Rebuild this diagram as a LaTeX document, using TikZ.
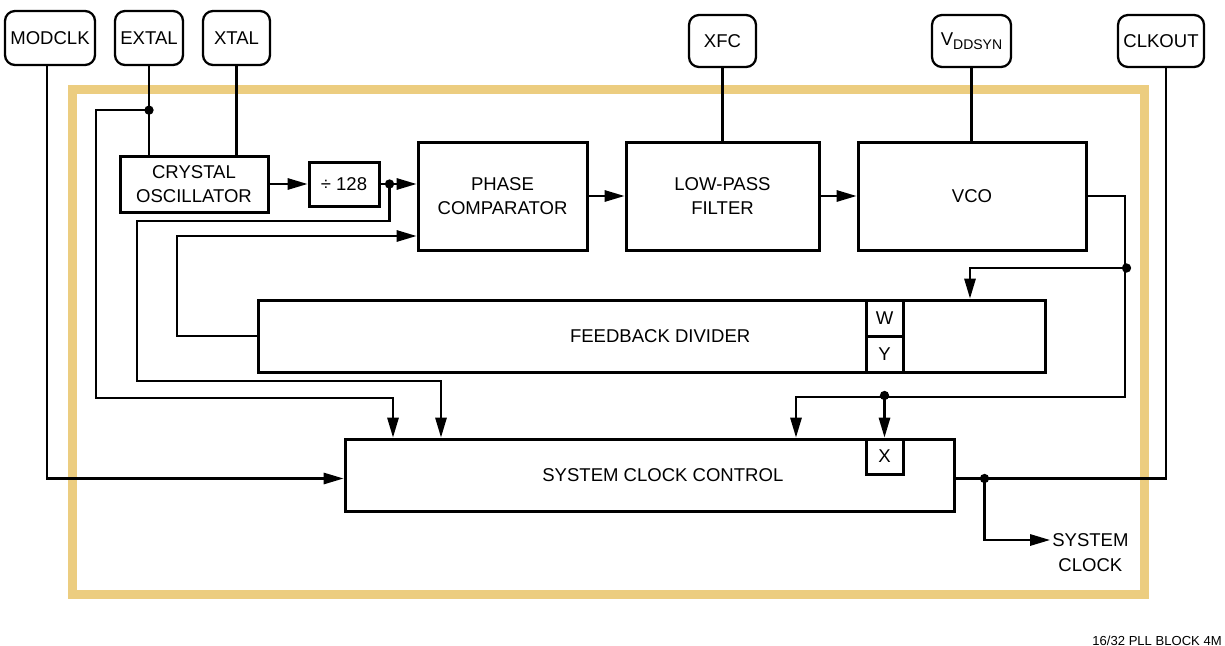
\documentclass[tikz,border=0pt]{standalone}
\usepackage{fontspec}
\setmainfont{Liberation Sans}
\usetikzlibrary{arrows.meta,calc}
\definecolor{frameyellow}{RGB}{236,205,128}
\tikzset{
  lbl/.style={font=\fontsize{13.9}{18}\selectfont},
  sz/.style 2 args={minimum width=#1*0.75pt, minimum height=#2*0.75pt},
  blk/.style={draw, line width=2.25pt, inner sep=0pt, align=center, lbl},
  pin/.style={draw, line width=1.7pt, rounded corners=7.5pt, inner sep=0pt, align=center, lbl},
  wire/.style={line width=1.6pt},
  arr/.style={wire, -{Triangle[length=15pt,width=8.5pt]}},
  jdot/.style={circle, fill, inner sep=0pt, minimum size=7pt},
  frame/.style={draw=frameyellow, line width=6.75pt},
}
\begin{document}
\begin{tikzpicture}[x=0.75pt,y=-0.75pt]
\useasboundingbox (0,0) rectangle (1225,646);

% module boundary
\draw[frame] (72.5,89.5) rectangle (1144.5,594.5);

% external pins
\node[pin, sz={90}{54}] (modclk) at (50,38)    {MODCLK};
\node[pin, sz={68}{54}] (extal)  at (149,38)   {EXTAL};
\node[pin, sz={67}{54}] (xtal)   at (236.5,38) {XTAL};
\node[pin, sz={67}{52}] (xfc)    at (722.5,41) {XFC};
\node[pin, sz={79}{52}] (vdd)    at (971.5,41) {V\raisebox{-0.35ex}{\fontsize{10.5}{10.5}\selectfont DDSYN}};
\node[pin, sz={86}{52}] (clkout) at (1161,41)  {CLKOUT};

% functional blocks
\node[blk, sz={148}{56}] (osc) at (194,184)     {CRYSTAL\\OSCILLATOR};
\node[blk, sz={70}{44}]  (div) at (344,184)     {÷ 128};
\node[blk, sz={169}{108}] (pc) at (502.5,196)   {PHASE\\COMPARATOR};
\node[blk, sz={193}{108}] (lpf) at (722.5,196)  {LOW-PASS\\FILTER};
\node[blk, sz={228}{108}] (vco) at (972,196)    {VCO};
\node[blk, sz={787}{72}]  (fd) at (651.5,336)   {\hspace*{13pt}FEEDBACK DIVIDER};
\node[blk, sz={37}{36}]   (wb) at (884.5,318)   {W};
\node[blk, sz={37}{36}]   (yb) at (884.5,354)   {Y};
\node[blk, sz={609}{72}]  (scc) at (649.5,475)  {\hspace*{20pt}SYSTEM CLOCK CONTROL};
\node[blk, sz={37}{35}]   (xb) at (884.5,456.5) {X};

% output label and figure tag
\node[lbl, anchor=west, inner sep=1.5pt] (sys) at (1050,540) {SYSTEM};
\node[lbl, anchor=base, inner sep=0pt] (sys2) at ($(sys.base)+(0,25)$) {CLOCK};
\node[font=\fontsize{9.8}{12}\selectfont, anchor=base east, inner sep=0pt] (tag) at (1222,645) {16/32 PLL BLOCK 4M};

% junctions
\coordinate (ej) at ($(extal.south)+(0,44)$);
\coordinate (dj) at ($(div.east)+(9,0)$);
\coordinate (vj) at ($(vco.east)+(39,72)$);
\coordinate (xj) at ($(xb.north)+(0,-42)$);
\coordinate (cj) at ($(scc.east)+(29,3.5)$);

% oscillator inputs
\draw[wire] (extal.south) -- (osc.north -| extal.south);
\draw[wire] (xtal.south) -- (osc.north -| xtal.south);
\draw[arr] (ej) -| (96,398) -| ($(scc.north west)+(49.5,0)$);
\draw[arr] ($(modclk.south)+(-3,0)$) |- ($(scc.west)+(0,3.5)$);

% reference path
\draw[arr] (osc.east) -- (div.west);
\draw[arr] (div.east) -- (pc.west |- div.east);
\draw[arr] (dj) |- (137,221) |- (441,381) -- ($(scc.north west)+(97.5,0)$);
\draw[arr] (fd.west) -| (177,236) -- ($(pc.west)+(0,40)$);

% loop
\draw[arr] (pc.east) -- (lpf.west);
\draw[arr] (lpf.east) -- (vco.west);
\draw[wire] (xfc.south) -- (lpf.north -| xfc.south);
\draw[wire] (vdd.south) -- (vco.north -| vdd.south);
\draw[arr] (vco.east) -| (1125,397) -| ($(scc.north west)+(452.5,0)$);
\draw[arr] (vj) -| ($(fd.north west)+(713.5,0)$);
\draw[arr] (xj) -- (xb.north);

% clock output
\draw[wire] ($(clkout.south)+(5,0)$) |- ($(scc.east)+(0,3.5)$);
\draw[arr] (cj) |- (sys.west);

% junction dots
\foreach \j in {ej,dj,vj,xj,cj} \node[jdot] at (\j) {};
\end{tikzpicture}
\end{document}
